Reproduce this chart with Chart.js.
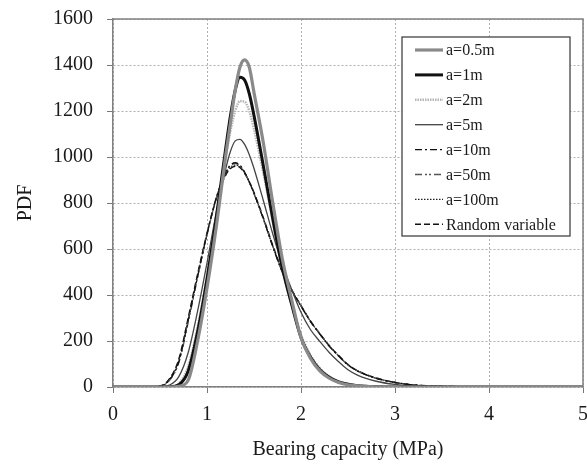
<!DOCTYPE html>
<html>
<head>
<meta charset="utf-8">
<script src="https://cdn.jsdelivr.net/npm/chart.js@4"></script>
<style>
  html, body { margin: 0; padding: 0; background: #fff; }
  #wrap { width: 587px; height: 468px; }
</style>
</head>
<body>
<div id="wrap"><canvas id="chartPdf" width="587" height="468"></canvas></div>
<script>
// bearing capacity (MPa)
const capacity = [0, 0.4, 0.5, 0.6, 0.7, 0.8, 0.9, 1.0, 1.1, 1.2, 1.25, 1.3, 1.35, 1.4, 1.45, 1.5, 1.6, 1.7, 1.8, 1.9, 2.0, 2.1, 2.2, 2.3, 2.4, 2.5, 2.6, 2.8, 3.0, 3.2, 3.5, 4.0, 5.0];

const labels = ["a=0.5m", "a=1m", "a=2m", "a=5m", "a=10m", "a=50m", "a=100m", "Random variable"];

const pdfA05 = [0, 0, 0, 0, 3, 30, 200, 430, 700, 1010, 1150, 1290, 1390, 1422, 1390, 1280, 1060, 800, 560, 380, 215, 125, 70, 38, 20, 10, 5, 1, 0, 0, 0, 0, 0];
const pdfA1 = [0, 0, 0, 1, 10, 70, 240, 470, 740, 1040, 1180, 1290, 1347, 1335, 1275, 1180, 960, 730, 520, 360, 215, 130, 75, 42, 22, 12, 6, 1.5, 0, 0, 0, 0, 0];
const pdfA2 = [0, 0, 0, 2, 15, 90, 260, 480, 740, 1005, 1115, 1200, 1243, 1240, 1200, 1120, 930, 720, 520, 360, 225, 140, 82, 46, 25, 13, 7, 2, 0.5, 0, 0, 0, 0];
const pdfA5 = [0, 0, 1, 8, 45, 150, 330, 540, 760, 950, 1025, 1070, 1077, 1055, 1010, 950, 810, 665, 535, 425, 325, 250, 198, 150, 110, 75, 52, 25, 11, 4, 1, 0, 0];
const pdfA10 = [0, 0, 3, 30, 110, 290, 480, 665, 825, 935, 965, 975, 965, 935, 892, 842, 730, 610, 500, 420, 352, 285, 230, 178, 135, 96, 70, 38, 20, 9, 3, 0.5, 0];
const pdfA50 = [0, 0, 3, 28, 105, 280, 475, 660, 822, 933, 962, 971, 962, 933, 890, 840, 730, 612, 502, 421, 352, 286, 231, 178, 135, 96, 70, 38, 20, 9, 3, 0.5, 0];
const pdfA100 = [0, 0, 3, 32, 115, 295, 485, 665, 822, 928, 956, 965, 957, 930, 890, 842, 732, 613, 503, 422, 353, 286, 231, 179, 136, 96, 70, 38, 20, 9, 3, 0.5, 0];
const pdfRandom = [0, 0, 4, 35, 120, 300, 490, 668, 820, 922, 950, 960, 955, 930, 892, 845, 735, 615, 505, 423, 354, 287, 232, 180, 137, 97, 71, 39, 20, 9, 3, 0.5, 0];

const xTicks = [0, 1, 2, 3, 4, 5];
const yTicks = [0, 200, 400, 600, 800, 1000, 1200, 1400, 1600];

const series = [pdfA05, pdfA1, pdfA2, pdfA5, pdfA10, pdfA50, pdfA100, pdfRandom];
const styles = [
    { color: "#8a8a8a", width: 3.2, dash: [] },
    { color: "#111111", width: 3, dash: [] },
    { color: "#b5b5b5", width: 2.5, dash: [1.5, 1] },
    { color: "#444444", width: 1.3, dash: [] },
    { color: "#111111", width: 1.3, dash: [7, 3, 2, 3] },
    { color: "#555555", width: 1.3, dash: [7, 3, 2, 2, 2, 3] },
    { color: "#222222", width: 1.2, dash: [1.5, 1.5] },
    { color: "#111111", width: 1.5, dash: [6, 3] }
];

const SERIF = "'Liberation Serif', 'Times New Roman', serif";

const datasets = series.map((vals, i) => ({
    label: labels[i],
    data: vals.map((v, k) => ({ x: capacity[k], y: v })),
    borderColor: styles[i].color,
    borderWidth: styles[i].width,
    borderDash: styles[i].dash,
    pointRadius: 0,
    fill: false,
    cubicInterpolationMode: "monotone"
}));

// legend box + frame drawn inside the plot
const boxLegend = {
    id: "boxLegend",
    afterDraw(chart) {
        const c = chart.ctx;
        const a = chart.chartArea;
        c.save();
        // top and right frame
        c.strokeStyle = "#808080";
        c.lineWidth = 1.5;
        c.setLineDash([]);
        c.beginPath();
        c.moveTo(a.left, a.top);
        c.lineTo(a.right, a.top);
        c.lineTo(a.right, a.bottom);
        c.stroke();

        const bx = 402, by = 37, bw = 168, bh = 199;
        c.fillStyle = "#fff";
        c.fillRect(bx, by, bw, bh);
        c.strokeStyle = "#444";
        c.lineWidth = 1.3;
        c.strokeRect(bx, by, bw, bh);

        c.font = "16px " + SERIF;
        c.textBaseline = "middle";
        c.textAlign = "left";
        labels.forEach((lab, i) => {
            const y = 50 + i * 24.9;
            c.strokeStyle = styles[i].color;
            c.lineWidth = styles[i].width;
            c.setLineDash(styles[i].dash);
            c.beginPath();
            c.moveTo(415, y);
            c.lineTo(443, y);
            c.stroke();
            c.fillStyle = "#1a1a1a";
            c.fillText(lab, 446, y + 1);
        });
        c.restore();
    }
};

new Chart(document.getElementById("chartPdf"), {
    type: "line",
    data: { datasets: datasets },
    options: {
        responsive: false,
        animation: false,
        layout: { padding: { top: 19, right: 4, left: 0, bottom: 0 } },
        plugins: {
            legend: { display: false },
            tooltip: { enabled: false }
        },
        scales: {
            x: {
                type: "linear",
                min: 0,
                max: 5,
                afterBuildTicks: (s) => { s.ticks = xTicks.map(v => ({ value: v })); },
                afterFit: (s) => { s.height = 81; s.paddingLeft = 0; s.paddingRight = 0; },
                ticks: {
                    color: "#1a1a1a",
                    font: { family: SERIF, size: 20 },
                    padding: 10,
                    maxRotation: 0,
                    callback: (v) => String(v)
                },
                grid: {
                    color: "#b0b0b0",
                    lineWidth: 1,
                    tickLength: 6,
                    tickColor: "#777",
                    tickBorderDash: []
                },
                border: { display: true, color: "#808080", width: 1.5, dash: [2, 2] },
                title: {
                    display: true,
                    text: "Bearing capacity (MPa)",
                    color: "#1a1a1a",
                    font: { family: SERIF, size: 20 },
                    padding: { top: 4, bottom: 6 }
                }
            },
            y: {
                min: 0,
                max: 1600,
                afterBuildTicks: (s) => { s.ticks = yTicks.map(v => ({ value: v })); },
                afterFit: (s) => { s.width = 113; s.paddingTop = 0; s.paddingBottom = 0; },
                ticks: {
                    color: "#1a1a1a",
                    font: { family: SERIF, size: 20 },
                    padding: 14,
                    callback: (v) => String(v)
                },
                grid: {
                    color: "#b0b0b0",
                    lineWidth: 1,
                    tickLength: 6,
                    tickColor: "#777",
                    tickBorderDash: []
                },
                border: { display: true, color: "#808080", width: 1.5, dash: [2, 2] },
                title: {
                    display: true,
                    text: "PDF",
                    color: "#1a1a1a",
                    font: { family: SERIF, size: 20 },
                    padding: { top: 14, bottom: 4 }
                }
            }
        }
    },
    plugins: [boxLegend]
});
</script>
</body>
</html>
